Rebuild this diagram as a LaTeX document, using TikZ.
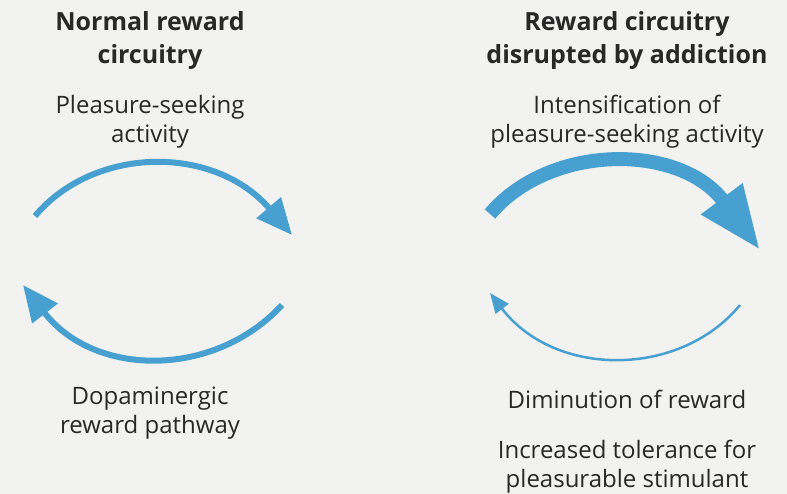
\documentclass[tikz,border=0pt]{standalone}
\usepackage{fontspec}
\setmainfont{Open Sans}
\usetikzlibrary{arrows.meta}
\definecolor{paper}{RGB}{242,242,241}
\definecolor{flow}{RGB}{72,160,208}
\definecolor{ink}{RGB}{40,40,40}
\tikzset{
  title/.style={font=\fontsize{25}{33}\selectfont\bfseries, text=ink, align=center},
  label/.style={font=\fontsize{24}{29}\selectfont, text=ink, align=center},
  loop/.style={draw=flow, line cap=butt},
}
\begin{document}
\begin{tikzpicture}[x=1pt,y=-1pt]
  \fill[paper] (0,0) rectangle (787,494);
  \useasboundingbox (0,0) rectangle (787,494);

  % left column: normal circuit
  \node[title] (tl) at (150,41) {Normal reward\\circuitry};
  \node[label] (al) at (150,122) {Pleasure-seeking\\activity};
  \node[label] (bl) at (150,413) {Dopaminergic\\reward pathway};

  \coordinate (l1) at (35,216);
  \coordinate (l2) at (292,235);
  \coordinate (l3) at (282,305);
  \coordinate (l4) at (23,285);
  \draw[loop, line width=6pt, -{Triangle[length=36pt,width=31pt]}]
    (l1) .. controls (95,145) and (215,145) .. (l2);
  \draw[loop, line width=6pt, -{Triangle[length=36pt,width=31pt]}]
    (l3) .. controls (215,378) and (95,378) .. (l4);

  % right column: circuit disrupted by addiction
  \node[title] (tr) at (627,41) {Reward circuitry\\disrupted by addiction};
  \node[label] (ar) at (627,122) {Intensification of\\pleasure-seeking activity};
  \node[label] (dr) at (627,399) {Diminution of reward};
  \node[label] (br) at (627,467) {Increased tolerance for\\pleasurable stimulant};

  \coordinate (r1) at (490,214);
  \coordinate (r2) at (760,250);
  \coordinate (r3) at (740,305);
  \coordinate (r4) at (490,293);
  \draw[loop, line width=14pt, -{Triangle[length=64pt,width=48pt]}]
    (r1) .. controls (550,143) and (680,143) .. (r2);
  \draw[loop, line width=2.5pt, -{Triangle[length=20pt,width=16pt]}]
    (r3) .. controls (680,378) and (555,378) .. (r4);
\end{tikzpicture}
\end{document}
